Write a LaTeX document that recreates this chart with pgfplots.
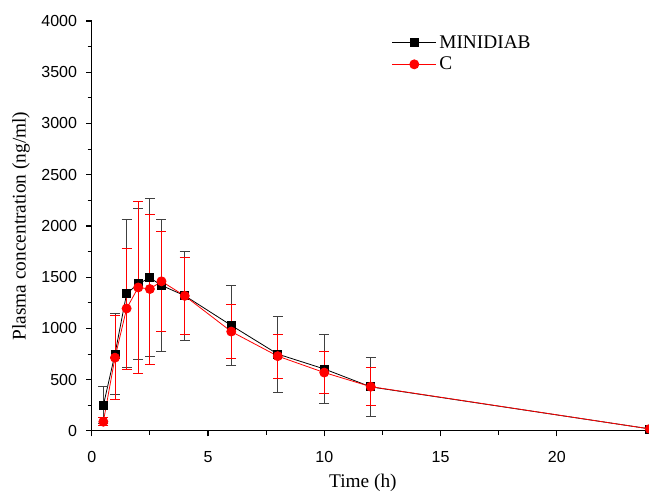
\documentclass[border=0pt]{standalone}
\usepackage{fontspec}
\setmainfont{Liberation Serif}
\newfontfamily\arial{Liberation Sans}
\usepackage{pgfplots}
\pgfplotsset{compat=1.18}

\pgfplotstableread{
t    c     sd
0.5  250   180
1    750   395
1.5  1340  720
2    1435  740
2.5  1495  770
3    1420  640
4    1320  432
6    1030  395
8    750   370
10   605   335
12   430   288
24   20    10
}\minidiab

\pgfplotstableread{
t    c     sd
0.5  90    40
1    715   410
1.5  1195  590
2    1400  840
2.5  1385  732
3    1460  490
4    1318  380
6    970   263
8    730   215
10   570   203
12   432   185
24   20    5
}\refc

\begin{document}
\begin{tikzpicture}
\useasboundingbox (-68.8pt,-45.75pt) rectangle (418pt,323.25pt);
\begin{axis}[
  scale only axis, width=418.6pt, height=307.5pt,
  xmin=0, xmax=24, ymin=0, ymax=4000,
  axis lines=left, axis line style={-, line width=0.8pt},
  xtick={0,5,...,20}, ytick={0,500,...,4000},
  minor x tick num=1, minor y tick num=1,
  tick align=outside, major tick length=4pt, minor tick length=3pt,
  tick style={line width=0.8pt, black},
  /pgf/number format/assume math mode=true,
  /pgf/number format/1000 sep={},
  tick label style={font=\arial\fontsize{12}{14}\selectfont},
  xticklabel style={yshift=-8pt},
  yticklabel style={xshift=-3.5pt},
  xlabel={Time (h)}, ylabel={Plasma concentration (ng/ml)},
  every axis x label/.style={at={([yshift=-39pt]axis description cs:0.486,0)}, anchor=center,
    font=\fontsize{14.5}{17}\selectfont},
  every axis y label/.style={at={([xshift=-53pt]axis description cs:0,0.5)}, anchor=center, rotate=90,
    font=\fontsize{14.5}{17}\selectfont},
  legend style={draw=none, fill=none, at={(rel axis cs:0.535,0.975)}, anchor=north west,
    font=\fontsize{14.5}{17}\selectfont, row sep=1pt, inner sep=1pt},
  legend image code/.code={\draw[mark repeat=2,mark phase=2] plot coordinates {(0pt,0pt)(16.5pt,0pt)(33pt,0pt)};},
  legend cell align=left,
]
\addplot[black, line width=0.6pt, mark=square*, mark size=3pt, mark options={solid},
  error bars/.cd, y dir=both, y explicit,
  error bar style={line width=0.6pt, black!75},
  error mark options={rotate=90, mark size=3.75pt, line width=0.6pt, black!75}]
  table[x=t, y=c, y error=sd] {\minidiab};
\addlegendentry{MINIDIAB}
\addplot[red, line width=0.6pt, mark=*, mark size=3.4pt, mark options={solid},
  error bars/.cd, y dir=both, y explicit,
  error bar style={line width=0.6pt, red},
  error mark options={rotate=90, mark size=3.75pt, line width=0.6pt, red}]
  table[x=t, y=c, y error=sd] {\refc};
\addlegendentry{C}
\end{axis}
\end{tikzpicture}
\end{document}
